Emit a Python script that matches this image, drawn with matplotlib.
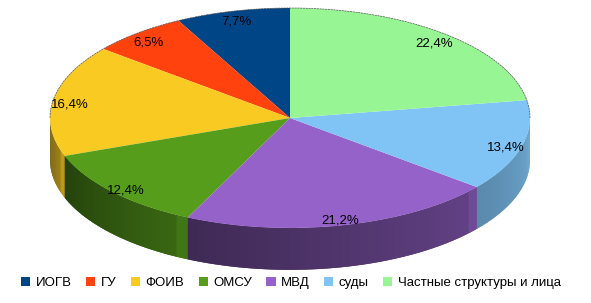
import numpy as np
import matplotlib.pyplot as plt
from matplotlib.colors import to_rgb
from matplotlib.patches import Polygon, Patch

labels = ['ИОГВ', 'ГУ', 'ФОИВ', 'ОМСУ', 'МВД', 'суды', 'Частные структуры и лица']
values = [7.7, 6.5, 16.4, 12.4, 21.2, 13.4, 22.4]
colors = ['#004586', '#ff420e', '#f9cb22', '#579d1c', '#9462c8', '#80c4f5', '#98f594']

plt.rcParams['font.family'] = ['Liberation Sans', 'DejaVu Sans']

fig = plt.figure(figsize=(5.91, 3.03), dpi=100)
ax = fig.add_axes([0, 0, 1, 1])

depth = 0.38  # wall height in data units (radius = 1)

wedges, texts, autotexts = ax.pie(
    values, colors=colors, startangle=90, counterclock=True, radius=1,
    autopct=lambda p: f'{p:.1f}'.replace('.', ',') + '%',
    pctdistance=0.93, wedgeprops=dict(linewidth=0, zorder=3),
    textprops=dict(fontsize=9.5, color='black'))
for t in autotexts:
    x, y = t.get_position()
    t.set_position((x, y - 0.03))
    t.set_zorder(5)

# side walls on the front half of the pie
theta0 = 90.0
for i, (v, c) in enumerate(zip(values, colors)):
    t1 = theta0 + v * 3.6
    a, b = max(theta0, 180.0), min(t1, 360.0)
    if a < b:
        base = np.array(to_rgb(c))
        steps = np.linspace(a, b, max(int((b - a) * 2), 2) + 1)
        for s0, s1 in zip(steps[:-1], steps[1:]):
            frac = (s1 - a) / (b - a)
            f = 0.42 + 0.25 * frac
            if b - s1 < 3 and b < 360:
                f = 0.75
            if i == 5:
                f = 0.7 + 0.15 * frac
            col = np.clip(base * f, 0, 1)
            tt = np.radians(np.linspace(s0, s1 + 0.6, 4))
            xs = np.cos(tt)
            ys = np.sin(tt)
            pts = np.concatenate([np.column_stack([xs, ys]),
                                  np.column_stack([xs[::-1], ys[::-1] - depth])])
            ax.add_patch(Polygon(pts, closed=True, facecolor=col, edgecolor='none', zorder=1))
    theta0 = t1

# thin outline along the back rim
tt = np.radians(np.linspace(0, 180, 200))
ax.plot(np.cos(tt), np.sin(tt), color='#555555', lw=0.5, ls=(0, (3, 1)), zorder=4)

ax.set_aspect('auto')
ax.set_xlim(-290 / 240, 301 / 240)
ax.set_ylim((118 - 303) / 110, 118 / 110)
ax.axis('off')

handles = [Patch(facecolor=c, edgecolor='none') for c in colors]
fig.legend(handles, labels, loc='center', bbox_to_anchor=(291 / 591, 1 - 283 / 303),
           ncol=7, frameon=False, fontsize=9.5, handlelength=0.7, handleheight=0.7,
           handletextpad=0.4, columnspacing=1.1)

fig.savefig('out.png', dpi=100)
